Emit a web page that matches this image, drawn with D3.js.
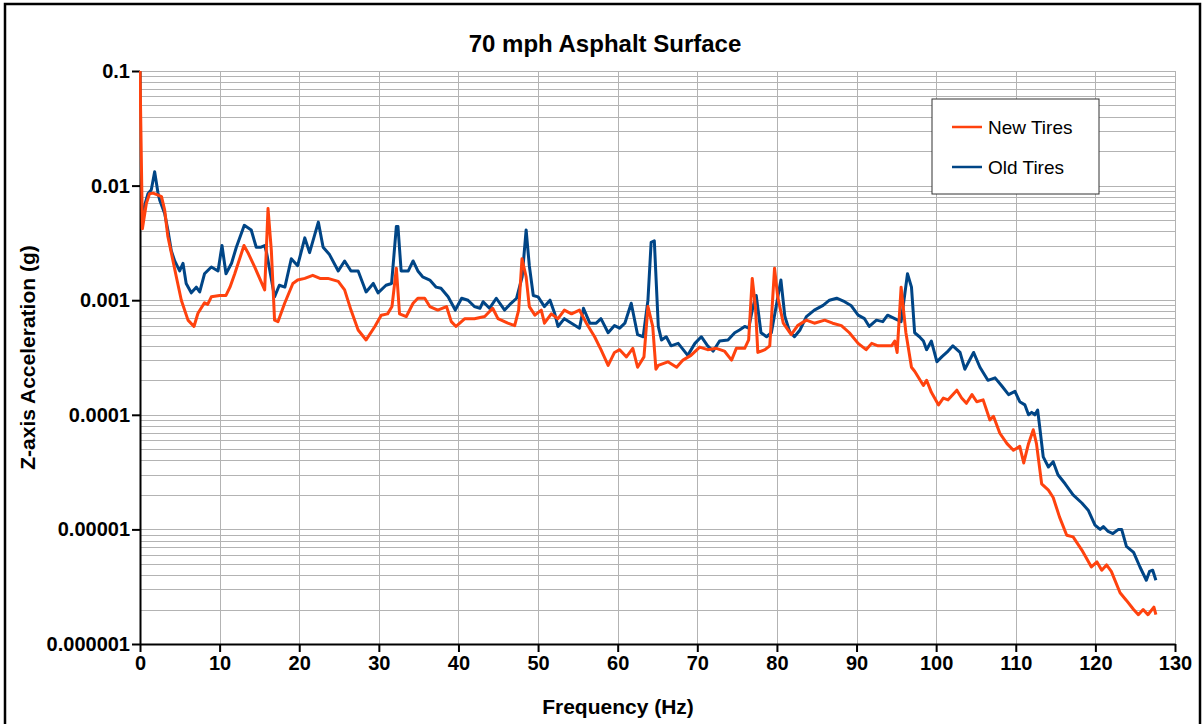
<!DOCTYPE html>
<html>
<head>
<meta charset="utf-8">
<script src="https://cdn.jsdelivr.net/npm/d3@7"></script>
<style>
  body { margin: 0; background: #fff; }
  text { font-family: "Liberation Sans", Arial, sans-serif; }
  .grid line { stroke: #b3b3b3; stroke-width: 1; shape-rendering: crispEdges; }
  .axis path, .axis line { stroke: #000; stroke-width: 2; }
  .axis text { font-size: 20px; font-weight: bold; fill: #000; }
</style>
</head>
<body>
<script>
// New Tires (orange) : frequency in Hz / acceleration in g
var newFreq = [0, 0.3, 0.8, 1.2, 1.63, 2.2, 2.7, 3.1, 3.5, 3.93, 4.56, 5.19, 6.03, 6.78, 7.28, 8.1, 8.5, 8.96, 10.0, 10.8,
  11.3, 11.9, 13.06, 13.56, 14.4, 15.66, 16.08, 16.5, 16.9, 17.33, 18.17, 19.2, 19.8, 20.7, 21.7, 22.6, 23.6, 24.9, 25.7, 26.5,
  27.4, 28.4, 29.5, 30.3, 31.1, 31.65, 32.2, 32.6, 33.45, 34.3, 34.9, 35.76, 36.4, 37.4, 38.5, 39.1, 39.7, 40.8, 42.0, 43.3,
  44.3, 44.96, 46.2, 47.06, 47.56, 47.98, 48.5, 48.9, 49.6, 50.4, 50.8, 51.66, 52.5, 53.3, 54.2, 55.2, 56.07, 57.1, 57.9, 58.8,
  59.6, 60.25, 61.1, 61.9, 62.5, 63.3, 63.8, 64.4, 64.8, 65.1, 66.3, 67.4, 68.2, 69.2, 70.3, 71.3, 72.4, 73.4, 74.3, 74.9,
  75.95, 76.45, 76.9, 77.3, 77.6, 78.5, 79.1, 79.7, 80.1, 80.8, 81.8, 82.6, 83.7, 84.7, 86.0, 87.0, 88.1, 89.1, 90.2, 91.2,
  91.9, 92.7, 93.5, 94.4, 94.8, 95.1, 95.6, 96.2, 96.9, 97.3, 98.4, 98.8, 99.4, 100.3, 100.9, 101.5, 102.6, 103.2, 103.8, 104.5,
  105.1, 105.9, 106.75, 107.2, 108.0, 108.9, 109.7, 110.5, 111.0, 111.6, 112.2, 112.6, 113.25, 114.1, 114.7, 115.5, 116.4, 117.2, 118.3, 119.5,
  120.2, 120.8, 121.4, 122.0, 123.1, 123.9, 124.8, 125.4, 126.0, 126.6, 127.35, 127.6];
var newVals = [0.1, 0.0042, 0.0070, 0.0085, 0.0086, 0.0083, 0.0080, 0.0061, 0.0036, 0.0026, 0.0016, 0.0010, 0.00067, 0.00059, 0.00077, 0.00095, 0.00092, 0.00107, 0.0011, 0.0011,
  0.0013, 0.0017, 0.0030, 0.0026, 0.00195, 0.00123, 0.0063, 0.0027, 0.00067, 0.00065, 0.00094, 0.0014, 0.0015, 0.00155, 0.00165, 0.00155, 0.00155, 0.00146, 0.00123, 0.00082,
  0.00055, 0.00045, 0.00059, 0.00074, 0.00076, 0.00088, 0.0019, 0.00076, 0.00072, 0.00094, 0.00104, 0.00104, 0.00088, 0.00082, 0.00088, 0.00065, 0.00059, 0.00069, 0.00069, 0.00072,
  0.00085, 0.00069, 0.00063, 0.0006, 0.00082, 0.0023, 0.0016, 0.00088, 0.00074, 0.00082, 0.00063, 0.00076, 0.00069, 0.00082, 0.00076, 0.00082, 0.00063, 0.00048, 0.00037, 0.00027,
  0.00035, 0.00037, 0.00032, 0.00038, 0.00026, 0.00032, 0.00088, 0.00059, 0.00025, 0.00027, 0.00029, 0.00026, 0.0003, 0.00033, 0.00039, 0.00037, 0.00038, 0.00036, 0.0003, 0.00038,
  0.00038, 0.00045, 0.00155, 0.00088, 0.00035, 0.00037, 0.0004, 0.0019, 0.00107, 0.00063, 0.0005, 0.0006, 0.00067, 0.00063, 0.00067, 0.00063, 0.0006, 0.00052, 0.00042, 0.00037,
  0.00042, 0.0004, 0.0004, 0.0004, 0.00044, 0.00035, 0.0013, 0.00052, 0.00026, 0.00024, 0.00018, 0.0002, 0.000157, 0.000122, 0.00014, 0.000135, 0.000164, 0.00014, 0.000126, 0.00015,
  0.00013, 0.000135, 0.00009, 0.000097, 0.000069, 0.000056, 0.000049, 0.000053, 0.000038, 0.000056, 0.000074, 0.000056, 0.000025, 0.000022, 0.000019, 0.0000128, 0.0000089, 0.0000086, 0.0000066, 0.0000047,
  0.0000052, 0.0000044, 0.0000049, 0.0000043, 0.0000028, 0.0000024, 0.000002, 0.0000018, 0.000002, 0.0000018, 0.0000021, 0.0000018];

// Old Tires (blue)
var oldFreq = [0.3, 0.6, 1.0, 1.42, 1.84, 2.26, 2.47, 3.1, 3.5, 3.93, 4.36, 4.98, 5.4, 5.8, 6.44, 7.07, 7.5, 8.1, 8.96, 9.8,
  10.3, 10.8, 11.5, 12.1, 13.1, 13.97, 14.6, 15.2, 15.66, 15.9, 16.9, 17.5, 18.2, 19.0, 19.8, 20.7, 21.3, 22.4, 23.0, 23.8,
  24.9, 25.7, 26.5, 27.4, 28.4, 29.3, 29.9, 30.9, 31.6, 32.2, 32.4, 32.8, 33.7, 34.3, 34.9, 35.5, 36.4, 37.2, 37.8, 38.7,
  39.6, 40.4, 41.2, 42.0, 42.7, 43.1, 43.9, 44.75, 45.8, 46.6, 47.3, 48.0, 48.5, 48.9, 49.4, 50.0, 50.8, 51.5, 52.1, 52.5,
  53.3, 54.2, 55.2, 55.7, 56.5, 57.3, 57.9, 58.8, 59.6, 60.25, 60.9, 61.7, 62.5, 63.2, 63.8, 64.2, 64.6, 65.1, 65.5, 66.1,
  66.7, 67.6, 68.8, 69.7, 70.5, 71.3, 72.0, 72.8, 73.85, 74.7, 75.3, 75.95, 76.45, 77.0, 77.4, 78.0, 78.7, 79.3, 79.9, 80.5,
  81.0, 81.6, 82.2, 82.9, 83.7, 84.7, 85.8, 86.6, 87.5, 88.5, 89.3, 90.2, 91.0, 91.6, 92.5, 93.3, 93.9, 94.8, 95.6, 96.4,
  96.9, 97.3, 97.9, 98.4, 98.8, 99.4, 100.1, 100.7, 101.5, 102.1, 103.0, 103.6, 104.7, 105.5, 106.5, 107.4, 108.2, 109.1, 109.9, 110.5,
  111.15, 111.6, 112.0, 112.4, 112.75, 113.0, 113.45, 114.1, 114.7, 115.3, 116.2, 117.2, 118.3, 119.1, 119.95, 120.6, 121.0, 121.6, 122.2, 122.9,
  123.3, 123.9, 124.8, 125.6, 126.4, 126.8, 127.2, 127.6];
var oldVals = [0.0052, 0.0068, 0.0085, 0.0092, 0.0132, 0.0086, 0.0075, 0.0057, 0.0041, 0.0027, 0.0022, 0.0018, 0.0021, 0.0014, 0.00116, 0.0013, 0.00118, 0.0017, 0.00195, 0.0018,
  0.003, 0.0017, 0.0021, 0.0029, 0.0045, 0.0041, 0.0029, 0.0029, 0.003, 0.0026, 0.00107, 0.00135, 0.0013, 0.0023, 0.0020, 0.0035, 0.0026, 0.0048, 0.0029, 0.0025,
  0.0018, 0.0022, 0.0018, 0.0018, 0.00118, 0.0014, 0.00116, 0.00135, 0.0014, 0.0044, 0.0044, 0.0018, 0.0018, 0.0022, 0.0018, 0.0016, 0.0015, 0.0013, 0.00127, 0.00107,
  0.00082, 0.00104, 0.001, 0.00088, 0.00085, 0.00097, 0.00085, 0.00104, 0.00082, 0.00094, 0.00104, 0.0016, 0.0041, 0.002, 0.0011, 0.00107, 0.00088, 0.001, 0.00076, 0.00059,
  0.00069, 0.00063, 0.00057, 0.00085, 0.00063, 0.00063, 0.00069, 0.00052, 0.0006, 0.00057, 0.00063, 0.00094, 0.0005, 0.00048, 0.001, 0.0032, 0.0033, 0.00059, 0.00045, 0.00048,
  0.0004, 0.00042, 0.00033, 0.00042, 0.00048, 0.0004, 0.00036, 0.00044, 0.00045, 0.00052, 0.00055, 0.00059, 0.00057, 0.00088, 0.0011, 0.00052, 0.00048, 0.00052, 0.00088, 0.0015,
  0.00072, 0.00053, 0.00048, 0.00055, 0.00072, 0.00082, 0.0009, 0.001, 0.00104, 0.00097, 0.0009, 0.00074, 0.00069, 0.00059, 0.00067, 0.00065, 0.00074, 0.00069, 0.00065, 0.0017,
  0.0013, 0.00052, 0.00048, 0.00044, 0.00037, 0.00044, 0.00029, 0.00032, 0.00036, 0.0004, 0.00035, 0.00025, 0.00035, 0.00026, 0.0002, 0.00021, 0.00018, 0.00015, 0.00016, 0.00013,
  0.000122, 0.0001, 0.000105, 0.0001, 0.00011, 0.000079, 0.000043, 0.000035, 0.000039, 0.00003, 0.000025, 0.00002, 0.000017, 0.0000147, 0.0000109, 0.00001, 0.0000106, 0.0000096, 0.0000092, 0.00001,
  0.00001, 0.0000071, 0.0000063, 0.0000047, 0.0000036, 0.0000043, 0.0000044, 0.0000036];

var yTickValues = [0.1, 0.01, 0.001, 0.0001, 0.00001, 0.000001];
var yTickLabels = ["0.1", "0.01", "0.001", "0.0001", "0.00001", "0.000001"];
var xTickValues = [0, 10, 20, 30, 40, 50, 60, 70, 80, 90, 100, 110, 120, 130];
var seriesNames = ["New Tires", "Old Tires"];
var seriesColors = ["#ff420e", "#004586"];

var width = 1204, height = 724,
    plot = {left: 140, right: 1175, top: 71, bottom: 644};

var x = d3.scaleLinear().domain([0, 130]).range([plot.left, plot.right]),
    y = d3.scaleLog().domain([0.000001, 0.1]).range([plot.bottom, plot.top]);

var svg = d3.select("body").append("svg")
    .attr("width", width)
    .attr("height", height);

// outer frame of the picture
svg.append("rect")
    .attr("x", 5).attr("y", 4)
    .attr("width", 1195).attr("height", 740)
    .attr("fill", "none")
    .attr("stroke", "#000")
    .attr("stroke-width", 2.5);

// grid: every log minor step and every 10 Hz
var grid = svg.append("g").attr("class", "grid");
grid.selectAll(".hg")
    .data(y.ticks())
  .enter().append("line")
    .attr("class", "hg")
    .attr("x1", plot.left).attr("x2", plot.right)
    .attr("y1", function(d) { return Math.round(y(d)) + 0.5; })
    .attr("y2", function(d) { return Math.round(y(d)) + 0.5; });
grid.selectAll(".vg")
    .data(xTickValues.slice(1))
  .enter().append("line")
    .attr("class", "vg")
    .attr("y1", plot.top).attr("y2", plot.bottom)
    .attr("x1", function(d) { return Math.round(x(d)) + 0.5; })
    .attr("x2", function(d) { return Math.round(x(d)) + 0.5; });

// axes (drawn before the lines, the orange spike at 0 Hz covers the y axis)
svg.append("g")
    .attr("class", "axis")
    .attr("transform", "translate(" + plot.left + ",0)")
    .call(d3.axisLeft(y).tickValues(yTickValues)
      .tickFormat(function(d, i) { return yTickLabels[i]; })
      .tickSize(8).tickSizeOuter(0).tickPadding(2));

svg.append("g")
    .attr("class", "axis")
    .attr("transform", "translate(0," + plot.bottom + ")")
    .call(d3.axisBottom(x).tickValues(xTickValues)
      .tickSize(8).tickSizeOuter(0).tickPadding(4));

svg.selectAll(".axis text").attr("font-family", null);

svg.append("clipPath").attr("id", "clip")
  .append("rect")
    .attr("x", plot.left - 1).attr("y", plot.top - 2)
    .attr("width", plot.right - plot.left + 1).attr("height", plot.bottom - plot.top + 2);

var line = d3.line()
    .x(function(d) { return x(d[0]); })
    .y(function(d) { return y(d[1]); });

// old tires first so the orange series sits on top
var series = [
  {name: seriesNames[1], color: seriesColors[1], pts: d3.zip(oldFreq, oldVals)},
  {name: seriesNames[0], color: seriesColors[0], pts: d3.zip(newFreq, newVals)}
];

svg.append("g").attr("clip-path", "url(#clip)")
  .selectAll("path")
    .data(series)
  .enter().append("path")
    .attr("d", function(d) { return line(d.pts); })
    .attr("fill", "none")
    .attr("stroke", function(d) { return d.color; })
    .attr("stroke-width", 3)
    .attr("stroke-linejoin", "round");

// titles
svg.append("text")
    .attr("x", 605).attr("y", 52)
    .attr("text-anchor", "middle")
    .style("font-size", "24px").style("font-weight", "bold")
    .text("70 mph Asphalt Surface");

svg.append("text")
    .attr("x", 618).attr("y", 714)
    .attr("text-anchor", "middle")
    .style("font-size", "21px").style("font-weight", "bold")
    .text("Frequency (Hz)");

svg.append("text")
    .attr("transform", "translate(35," + ((plot.top + plot.bottom) / 2) + ")rotate(-90)")
    .attr("text-anchor", "middle")
    .style("font-size", "21px").style("font-weight", "bold")
    .text("Z-axis Acceleration (g)");

// legend
var legend = svg.append("g").attr("transform", "translate(932,99)");
legend.append("rect")
    .attr("width", 167).attr("height", 95)
    .attr("fill", "#fff")
    .attr("stroke", "#333")
    .attr("stroke-width", 1);
var item = legend.selectAll(".item")
    .data(seriesNames)
  .enter().append("g")
    .attr("class", "item")
    .attr("transform", function(d, i) { return "translate(0," + (28 + i * 40) + ")"; });
item.append("line")
    .attr("x1", 20).attr("x2", 50)
    .attr("stroke", function(d, i) { return seriesColors[i]; })
    .attr("stroke-width", 2.5);
item.append("text")
    .attr("x", 56).attr("dy", "0.35em")
    .style("font-size", "19px")
    .text(function(d) { return d; });
</script>
</body>
</html>
